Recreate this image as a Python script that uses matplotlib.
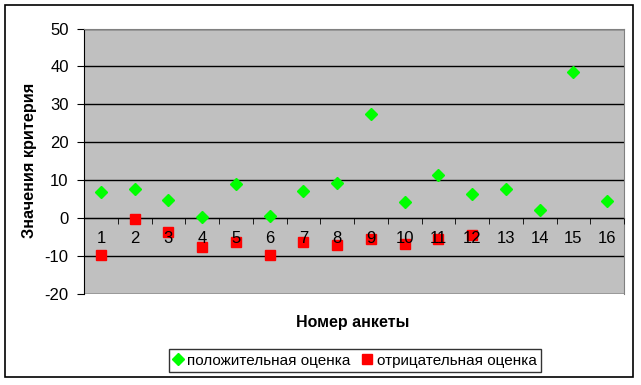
import matplotlib.pyplot as plt
from matplotlib.patches import Rectangle
from matplotlib.ticker import FixedLocator

plt.rcParams['font.family'] = ['Liberation Sans', 'DejaVu Sans']
plt.rcParams['axes.unicode_minus'] = False

# survey numbers and criterion values
anketa = list(range(1, 17))
positive = [6.9, 7.8, 4.9, 0.2, 9.0, 0.5, 7.1, 9.2,
            27.4, 4.2, 11.3, 6.3, 7.8, 2.1, 38.6, 4.5]
neg_idx = list(range(1, 13))
negative = [-9.8, -0.1, -3.7, -7.7, -6.3, -9.8, -6.3, -7.1,
            -5.6, -6.9, -5.6, -4.5]

W, H = 641, 385
fig = plt.figure(figsize=(W / 100, H / 100), dpi=100)

# plot area in pixels: left 84, right 624, top 28.5, bottom 294
ax = fig.add_axes([84 / W, 1 - 294 / H, (624 - 84) / W, (294 - 28.5) / H])
ax.set_facecolor('#C0C0C0')

ax.plot(anketa, positive, linestyle='none', marker='D', ms=6.5,
        color='#00FF00', label='положительная оценка', zorder=2)
ax.plot(neg_idx, negative, linestyle='none', marker='s', ms=7,
        color='#FF0000', label='отрицательная оценка', zorder=2)

ax.set_xlim(0.5, 16.5)
ax.set_ylim(-20, 50)
ax.set_yticks(range(-20, 51, 10))
ax.yaxis.grid(True, color='black', linewidth=1)
ax.set_axisbelow(True)

for s in ['top', 'right']:
    ax.spines[s].set_color('#808080')
ax.spines['left'].set_color('black')
ax.spines['bottom'].set_position(('data', 0))
ax.spines['bottom'].set_color('black')
ax.spines['bottom'].set_zorder(1.6)

ax.set_xticks(anketa)
ax.set_xticklabels([str(i) for i in anketa])
ax.xaxis.set_minor_locator(FixedLocator([i + 0.5 for i in range(0, 17)]))
ax.tick_params(axis='x', which='major', length=0, pad=9, labelsize=12)
ax.tick_params(axis='x', which='minor', length=4, direction='out', color='black')
ax.tick_params(axis='y', length=5, direction='out', labelsize=12, pad=6)
ax.xaxis.set_zorder(3)

# outer chart border
border = Rectangle((5 / W, 1 - 377 / H), (633 - 5) / W, (377 - 5) / H,
                   transform=fig.transFigure, fill=False,
                   edgecolor='black', linewidth=1.2)
fig.patches.append(border)

fig.text(30 / W, 1 - 160 / H, 'Значения критерия', rotation=90,
         ha='center', va='center', fontsize=11.7, fontweight='bold')
fig.text(353 / W, 1 - 322 / H, 'Номер анкеты', ha='center', va='center',
         fontsize=11.5, fontweight='bold')

leg = fig.legend(loc='center', bbox_to_anchor=(355 / W, 1 - 360.5 / H), ncol=2,
                 fontsize=11, frameon=True, fancybox=False,
                 edgecolor='black', handlelength=0.6, handletextpad=0.3,
                 columnspacing=0.8, borderpad=0.3, borderaxespad=0)
leg.get_frame().set_linewidth(1)

fig.savefig('out.png', dpi=100)
